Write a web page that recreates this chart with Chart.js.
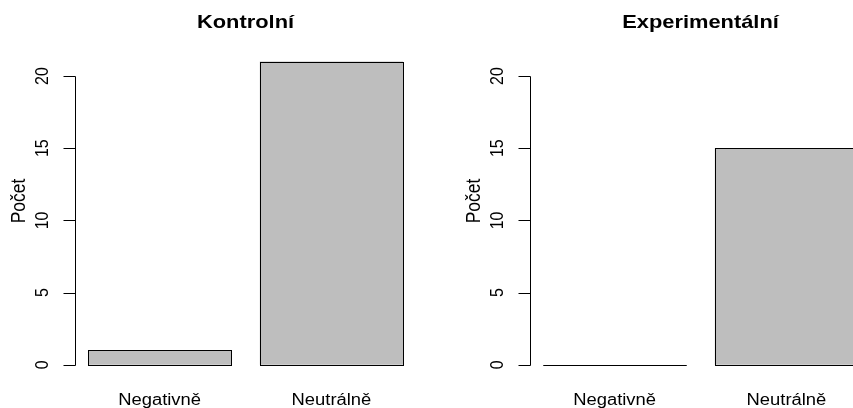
<!DOCTYPE html>
<html>
<head>
<meta charset="utf-8">
<script src="https://cdn.jsdelivr.net/npm/chart.js@4"></script>
<style>
  html, body { margin: 0; padding: 0; background: #fff; }
  body { width: 853px; height: 408px; overflow: hidden; position: relative; }
  .panel { position: absolute; top: 0; width: 455px; height: 408px; }
</style>
</head>
<body>
<div class="panel" style="left:0"><canvas id="kontrolni" width="455" height="408"></canvas></div>
<div class="panel" style="left:455px"><canvas id="experimentalni" width="455" height="408"></canvas></div>
<script>
// data
const categories = ['Negativně', 'Neutrálně'];
const kontrolniValues = [1, 21];
const experimentalniValues = [0, 15];
const yTicks = [0, 5, 10, 15, 20];
const yLabel = 'Počet';

const FONT = '"Liberation Sans", Arial, Helvetica, sans-serif';
const SX = 1.15; // the reference text is a little stretched sideways

// R barplot layout: width 1, space 0.2 -> centres at 0.7, 1.9
const barCentre = i => 0.2 + i * 1.2 + 0.5;

// draws the R style axis, labels and bar borders
const rAxes = {
    id: 'rAxes',
    afterDatasetsDraw(chart) {
        const ctx = chart.ctx;
        const meta = chart.getDatasetMeta(0);
        ctx.save();
        ctx.strokeStyle = '#000';
        ctx.lineWidth = 1;
        meta.data.forEach(bar => {
            const p = bar.getProps(['x', 'y', 'base', 'width'], true);
            const l = Math.round(p.x - p.width / 2) + 0.5;
            const r = Math.round(p.x + p.width / 2) + 0.5;
            const t = Math.round(Math.min(p.y, p.base)) + 0.5;
            const b = Math.round(Math.max(p.y, p.base)) + 0.5;
            ctx.strokeRect(l, t, r - l, b - t);
        });
        ctx.restore();
    },
    afterDraw(chart, args, opts) {
        const ctx = chart.ctx;
        const y = chart.scales.y;
        const x = chart.scales.x;
        const area = chart.chartArea;
        const ax = Math.round(area.left) + 0.5;
        ctx.save();
        ctx.strokeStyle = '#000';
        ctx.fillStyle = '#000';
        ctx.lineWidth = 1;

        // y axis line from first to last tick
        ctx.beginPath();
        ctx.moveTo(ax, Math.round(y.getPixelForValue(yTicks[0])) + 0.5);
        ctx.lineTo(ax, Math.round(y.getPixelForValue(yTicks[yTicks.length - 1])) + 0.5);
        yTicks.forEach(v => {
            const py = Math.round(y.getPixelForValue(v)) + 0.5;
            ctx.moveTo(ax, py);
            ctx.lineTo(ax - 12, py);
        });
        ctx.stroke();

        // tick labels, rotated like R's las = 0
        ctx.font = '16px ' + FONT;
        ctx.textAlign = 'center';
        ctx.textBaseline = 'alphabetic';
        yTicks.forEach(v => {
            ctx.save();
            ctx.translate(48, y.getPixelForValue(v));
            ctx.scale(SX, 1);
            ctx.rotate(-Math.PI / 2);
            ctx.fillText(String(v), 0, 0);
            ctx.restore();
        });

        // category names under the bars
        categories.forEach((c, i) => {
            ctx.save();
            ctx.translate(x.getPixelForValue(barCentre(i)), 405);
            ctx.scale(SX, 1);
            ctx.fillText(c, 0, 0);
            ctx.restore();
        });

        // y axis title
        ctx.font = '17.5px ' + FONT;
        ctx.save();
        ctx.translate(25, 201);
        ctx.scale(SX, 1);
        ctx.rotate(-Math.PI / 2);
        ctx.fillText(yLabel, 0, 0);
        ctx.restore();

        // panel title
        ctx.font = 'bold 19px ' + FONT;
        ctx.save();
        ctx.translate((area.left + area.right) / 2, 28);
        ctx.scale(SX, 1);
        ctx.fillText(opts.title, 0, 0);
        ctx.restore();

        ctx.restore();
    }
};

function makePanel(canvasId, title, values) {
    const ctx = document.getElementById(canvasId).getContext('2d');
    return new Chart(ctx, {
        type: 'bar',
        data: {
            datasets: [{
                data: values.map((v, i) => ({ x: barCentre(i), y: v })),
                backgroundColor: '#bebebe',
                borderWidth: 0,
                categoryPercentage: 1,
                barPercentage: 1 / 1.2
            }]
        },
        options: {
            responsive: false,
            animation: false,
            layout: {
                padding: { left: 75.4, right: 39.4, top: 49.4, bottom: 31 }
            },
            plugins: {
                legend: { display: false },
                tooltip: { enabled: false },
                rAxes: { title: title }
            },
            scales: {
                x: {
                    type: 'linear',
                    display: false,
                    offset: false,
                    min: 0.112,
                    max: 2.488,
                    afterBuildTicks: s => { s.ticks = categories.map((c, i) => ({ value: barCentre(i) })); }
                },
                y: {
                    display: false,
                    min: -0.84,
                    max: 21.84
                }
            }
        },
        plugins: [rAxes]
    });
}

makePanel('kontrolni', 'Kontrolní', kontrolniValues);
makePanel('experimentalni', 'Experimentální', experimentalniValues);
</script>
</body>
</html>
